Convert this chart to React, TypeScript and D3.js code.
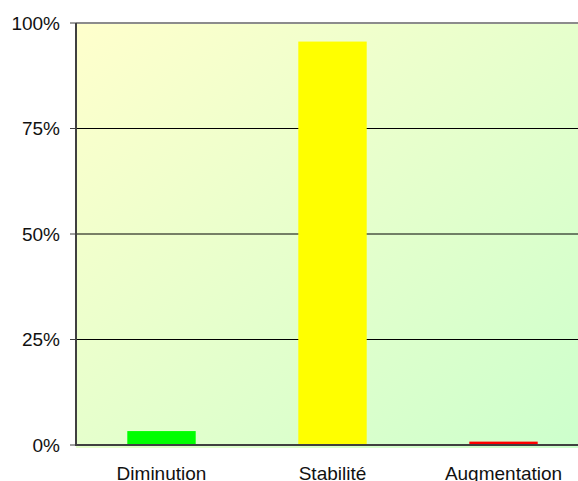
import React from "react";
import * as d3 from "d3";

const categories = ["Diminution", "Stabilité", "Augmentation"];
const values = [3.3, 95.6, 0.8];
const barColors = ["#00ff00", "#ffff00", "#ff0000"];
const yTicks = [0, 25, 50, 75, 100];

const W = 578;
const H = 481;
const left = 76;
const right = 589;
const top = 23;
const bottom = 445;

export default function App() {
  const x = d3.scaleBand().domain(categories).range([left, right]).paddingInner(0.6).paddingOuter(0.3);
  const y = d3.scaleLinear().domain([0, 100]).range([bottom, top]);
  const font = "'Liberation Sans', Arial, sans-serif";

  return (
    <svg
      width={W}
      height={H}
      style={{ position: "absolute", left: 0, top: 0 }}
      fontFamily={font}
    >
      <defs>
        <linearGradient id="bg" x1="0" y1="0" x2="1" y2="1">
          <stop offset="0%" stopColor="#ffffcc" />
          <stop offset="100%" stopColor="#ccffcc" />
        </linearGradient>
      </defs>
      <rect x={left} y={top} width={right - left} height={bottom - top + 3} fill="url(#bg)" />

      {yTicks
        .filter((t) => t > 0 && t < 100)
        .map((t) => (
          <line key={t} x1={left} x2={right} y1={y(t)} y2={y(t)} stroke="#000" strokeWidth={1} />
        ))}
      <line x1={left} x2={right} y1={y(100)} y2={y(100)} stroke="#8c8c8c" strokeWidth={2} />

      {categories.map((c, i) => (
        <rect
          key={c}
          x={x(c)}
          y={y(values[i])}
          width={x.bandwidth()}
          height={bottom - y(values[i])}
          fill={barColors[i]}
        />
      ))}

      <line x1={left} x2={left} y1={top} y2={bottom + 1} stroke="#404040" strokeWidth={2} />
      <line x1={left} x2={right} y1={bottom} y2={bottom} stroke="#404040" strokeWidth={2} />

      {yTicks.map((t) => (
        <g key={t}>
          <line x1={left - 6} x2={left} y1={y(t)} y2={y(t)} stroke="#404040" strokeWidth={1} />
          <text
            x={60}
            y={y(t)}
            dy="0.35em"
            textAnchor="end"
            fontSize={19}
            fill="#111"
          >
            {t}%
          </text>
        </g>
      ))}

      {categories.map((c) => (
        <text
          key={c}
          x={(x(c) as number) + x.bandwidth() / 2}
          y={480}
          textAnchor="middle"
          fontSize={19}
          fill="#111"
        >
          {c}
        </text>
      ))}
    </svg>
  );
}
